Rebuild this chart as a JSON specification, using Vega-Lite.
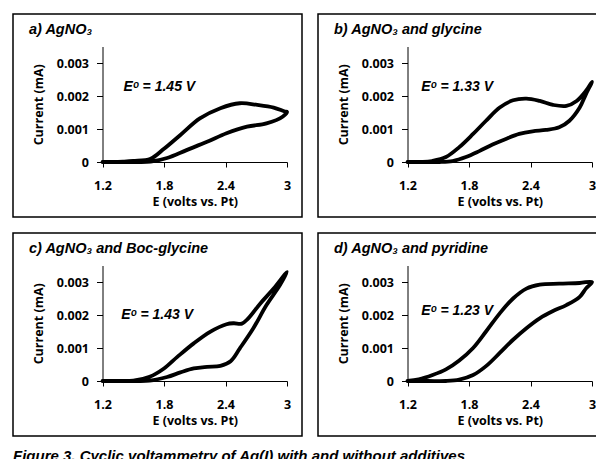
{
  "$schema": "https://vega.github.io/schema/vega-lite/v6.json",
  "background": "white",
  "padding": {"left": 12, "top": 13, "right": 0, "bottom": 0},
  "title": {
    "text": "Figure 3. Cyclic voltammetry of Ag(I) with and without additives",
    "orient": "bottom", "anchor": "start", "frame": "group", "dx": 0,
    "font": "Liberation Sans", "fontStyle": "italic", "fontWeight": "bold", "fontSize": 15,
    "color": "black", "baseline": "alphabetic", "offset": 24
  },
  "datasets": {
    "a": [
      {"i": 1, "E": 1.2, "I": 0}, {"i": 2, "E": 1.3, "I": 0}, {"i": 3, "E": 1.4, "I": 0.00001}, {"i": 4, "E": 1.5, "I": 0.00003},
      {"i": 5, "E": 1.67, "I": 0.0001}, {"i": 6, "E": 1.8, "I": 0.0004}, {"i": 7, "E": 1.96, "I": 0.00082}, {"i": 8, "E": 2.15, "I": 0.00132},
      {"i": 9, "E": 2.35, "I": 0.00163}, {"i": 10, "E": 2.54, "I": 0.00178}, {"i": 11, "E": 2.71, "I": 0.00173}, {"i": 12, "E": 2.87, "I": 0.00165},
      {"i": 13, "E": 2.98, "I": 0.00153}, {"i": 14, "E": 3.0, "I": 0.00152},
      {"i": 15, "E": 2.96, "I": 0.00138}, {"i": 16, "E": 2.8, "I": 0.00117}, {"i": 17, "E": 2.61, "I": 0.00107}, {"i": 18, "E": 2.41, "I": 0.00087},
      {"i": 19, "E": 2.22, "I": 0.00061}, {"i": 20, "E": 2.02, "I": 0.00036}, {"i": 21, "E": 1.83, "I": 0.00012}, {"i": 22, "E": 1.67, "I": 0.00001},
      {"i": 23, "E": 1.5, "I": 0}, {"i": 24, "E": 1.35, "I": 0}, {"i": 25, "E": 1.2, "I": 0}
    ],
    "b": [
      {"i": 1, "E": 1.2, "I": 0}, {"i": 2, "E": 1.35, "I": 0}, {"i": 3, "E": 1.44, "I": 0.00003}, {"i": 4, "E": 1.575, "I": 0.00015},
      {"i": 5, "E": 1.705, "I": 0.00045}, {"i": 6, "E": 1.84, "I": 0.00085}, {"i": 7, "E": 1.966, "I": 0.00125}, {"i": 8, "E": 2.1, "I": 0.00165},
      {"i": 9, "E": 2.23, "I": 0.00187}, {"i": 10, "E": 2.36, "I": 0.00192}, {"i": 11, "E": 2.49, "I": 0.00185}, {"i": 12, "E": 2.62, "I": 0.00173},
      {"i": 13, "E": 2.75, "I": 0.0017}, {"i": 14, "E": 2.85, "I": 0.00185}, {"i": 15, "E": 2.94, "I": 0.00215}, {"i": 16, "E": 3.0, "I": 0.00243},
      {"i": 17, "E": 2.94, "I": 0.00205}, {"i": 18, "E": 2.88, "I": 0.00165}, {"i": 19, "E": 2.78, "I": 0.00125}, {"i": 20, "E": 2.68, "I": 0.00105},
      {"i": 21, "E": 2.55, "I": 0.00097}, {"i": 22, "E": 2.42, "I": 0.00093}, {"i": 23, "E": 2.29, "I": 0.00085}, {"i": 24, "E": 2.16, "I": 0.0007},
      {"i": 25, "E": 2.03, "I": 0.00053}, {"i": 26, "E": 1.9, "I": 0.00033}, {"i": 27, "E": 1.77, "I": 0.00015}, {"i": 28, "E": 1.64, "I": 0.00003},
      {"i": 29, "E": 1.51, "I": 0}, {"i": 30, "E": 1.35, "I": 0}, {"i": 31, "E": 1.2, "I": 0}
    ],
    "c": [
      {"i": 1, "E": 1.2, "I": 0}, {"i": 2, "E": 1.35, "I": 0}, {"i": 3, "E": 1.5, "I": 0.00001}, {"i": 4, "E": 1.66, "I": 0.00013},
      {"i": 5, "E": 1.8, "I": 0.00038}, {"i": 6, "E": 1.93, "I": 0.00073}, {"i": 7, "E": 2.09, "I": 0.00114}, {"i": 8, "E": 2.25, "I": 0.00149},
      {"i": 9, "E": 2.41, "I": 0.00172}, {"i": 10, "E": 2.48, "I": 0.00175}, {"i": 11, "E": 2.56, "I": 0.00174}, {"i": 12, "E": 2.62, "I": 0.00189},
      {"i": 13, "E": 2.74, "I": 0.00235}, {"i": 14, "E": 2.87, "I": 0.0028}, {"i": 15, "E": 3.0, "I": 0.0033},
      {"i": 16, "E": 2.93, "I": 0.0029}, {"i": 17, "E": 2.8, "I": 0.0023}, {"i": 18, "E": 2.67, "I": 0.00159}, {"i": 19, "E": 2.54, "I": 0.00099},
      {"i": 20, "E": 2.45, "I": 0.0006}, {"i": 21, "E": 2.35, "I": 0.00046}, {"i": 22, "E": 2.22, "I": 0.00043}, {"i": 23, "E": 2.09, "I": 0.00038},
      {"i": 24, "E": 1.96, "I": 0.00026}, {"i": 25, "E": 1.83, "I": 0.00012}, {"i": 26, "E": 1.66, "I": 0.00001}, {"i": 27, "E": 1.5, "I": 0},
      {"i": 28, "E": 1.35, "I": 0}, {"i": 29, "E": 1.2, "I": 0}
    ],
    "d": [
      {"i": 1, "E": 1.2, "I": 0}, {"i": 2, "E": 1.31, "I": 0.00005}, {"i": 3, "E": 1.445, "I": 0.00018}, {"i": 4, "E": 1.575, "I": 0.00035},
      {"i": 5, "E": 1.705, "I": 0.00062}, {"i": 6, "E": 1.84, "I": 0.001}, {"i": 7, "E": 1.966, "I": 0.0015}, {"i": 8, "E": 2.1, "I": 0.00205},
      {"i": 9, "E": 2.23, "I": 0.0025}, {"i": 10, "E": 2.36, "I": 0.0028}, {"i": 11, "E": 2.49, "I": 0.00292}, {"i": 12, "E": 2.68, "I": 0.00295},
      {"i": 13, "E": 2.88, "I": 0.00297}, {"i": 14, "E": 3.0, "I": 0.003},
      {"i": 15, "E": 2.94, "I": 0.0028}, {"i": 16, "E": 2.88, "I": 0.00255}, {"i": 17, "E": 2.75, "I": 0.0023}, {"i": 18, "E": 2.62, "I": 0.00212},
      {"i": 19, "E": 2.49, "I": 0.0019}, {"i": 20, "E": 2.36, "I": 0.0016}, {"i": 21, "E": 2.23, "I": 0.00125}, {"i": 22, "E": 2.1, "I": 0.00085},
      {"i": 23, "E": 1.966, "I": 0.00045}, {"i": 24, "E": 1.84, "I": 0.00018}, {"i": 25, "E": 1.705, "I": 0.00004}, {"i": 26, "E": 1.575, "I": 0},
      {"i": 27, "E": 1.4, "I": 0}, {"i": 28, "E": 1.2, "I": 0}
    ]
  },
  "columns": 2,
  "spacing": {"row": 14, "column": 14},
  "concat": [
    {
      "width": 289, "height": 203,
      "title": {"text": "a) AgNO₃"},
      "layer": [
        {
          "data": {"name": "a"},
          "mark": {"type": "line", "color": "black", "strokeWidth": 3.8, "interpolate": "catmull-rom", "strokeJoin": "round", "strokeCap": "round"},
          "encoding": {
            "x": {"field": "E", "type": "quantitative", "scale": {"domain": [1.2, 3], "range": [89.5, 274], "nice": false, "zero": false},
                  "axis": {"offset": -55, "values": [1.2, 1.8, 2.4, 3], "format": "~g", "title": "E (volts vs. Pt)"}},
            "y": {"field": "I", "type": "quantitative", "scale": {"domain": [0, 0.0035], "range": [148, 32.5], "nice": false},
                  "axis": {"offset": -89.5, "values": [0, 0.001, 0.002, 0.003], "format": ".3~f", "title": "Current (mA)"}},
            "order": {"field": "i", "type": "quantitative"}
          }
        },
        {
          "data": {"values": [{"label": "Eᵒ = 1.45 V"}]},
          "mark": {"type": "text", "align": "left", "baseline": "alphabetic", "font": "Liberation Sans", "fontStyle": "italic", "fontWeight": "bold", "fontSize": 14, "color": "black"},
          "encoding": {"x": {"datum": 1.404}, "y": {"datum": 0.00214}, "text": {"field": "label"}}
        }
      ]
    },
    {
      "width": 289, "height": 203,
      "title": {"text": "b) AgNO₃ and glycine"},
      "layer": [
        {
          "data": {"name": "b"},
          "mark": {"type": "line", "color": "black", "strokeWidth": 3.8, "interpolate": "catmull-rom", "strokeJoin": "round", "strokeCap": "round"},
          "encoding": {
            "x": {"field": "E", "type": "quantitative", "scale": {"domain": [1.2, 3], "range": [89.5, 274], "nice": false, "zero": false},
                  "axis": {"offset": -55, "values": [1.2, 1.8, 2.4, 3], "format": "~g", "title": "E (volts vs. Pt)"}},
            "y": {"field": "I", "type": "quantitative", "scale": {"domain": [0, 0.0035], "range": [148, 32.5], "nice": false},
                  "axis": {"offset": -89.5, "values": [0, 0.001, 0.002, 0.003], "format": ".3~f", "title": "Current (mA)"}},
            "order": {"field": "i", "type": "quantitative"}
          }
        },
        {
          "data": {"values": [{"label": "Eᵒ = 1.33 V"}]},
          "mark": {"type": "text", "align": "left", "baseline": "alphabetic", "font": "Liberation Sans", "fontStyle": "italic", "fontWeight": "bold", "fontSize": 14, "color": "black"},
          "encoding": {"x": {"datum": 1.334}, "y": {"datum": 0.00216}, "text": {"field": "label"}}
        }
      ]
    },
    {
      "width": 289, "height": 203,
      "title": {"text": "c) AgNO₃ and Boc-glycine"},
      "layer": [
        {
          "data": {"name": "c"},
          "mark": {"type": "line", "color": "black", "strokeWidth": 3.8, "interpolate": "catmull-rom", "strokeJoin": "round", "strokeCap": "round"},
          "encoding": {
            "x": {"field": "E", "type": "quantitative", "scale": {"domain": [1.2, 3], "range": [89.5, 274], "nice": false, "zero": false},
                  "axis": {"offset": -55, "values": [1.2, 1.8, 2.4, 3], "format": "~g", "title": "E (volts vs. Pt)"}},
            "y": {"field": "I", "type": "quantitative", "scale": {"domain": [0, 0.0035], "range": [148, 32.5], "nice": false},
                  "axis": {"offset": -89.5, "values": [0, 0.001, 0.002, 0.003], "format": ".3~f", "title": "Current (mA)"}},
            "order": {"field": "i", "type": "quantitative"}
          }
        },
        {
          "data": {"values": [{"label": "Eᵒ = 1.43 V"}]},
          "mark": {"type": "text", "align": "left", "baseline": "alphabetic", "font": "Liberation Sans", "fontStyle": "italic", "fontWeight": "bold", "fontSize": 14, "color": "black"},
          "encoding": {"x": {"datum": 1.383}, "y": {"datum": 0.00189}, "text": {"field": "label"}}
        }
      ]
    },
    {
      "width": 289, "height": 203,
      "title": {"text": "d) AgNO₃ and pyridine"},
      "layer": [
        {
          "data": {"name": "d"},
          "mark": {"type": "line", "color": "black", "strokeWidth": 3.8, "interpolate": "catmull-rom", "strokeJoin": "round", "strokeCap": "round"},
          "encoding": {
            "x": {"field": "E", "type": "quantitative", "scale": {"domain": [1.2, 3], "range": [89.5, 274], "nice": false, "zero": false},
                  "axis": {"offset": -55, "values": [1.2, 1.8, 2.4, 3], "format": "~g", "title": "E (volts vs. Pt)"}},
            "y": {"field": "I", "type": "quantitative", "scale": {"domain": [0, 0.0035], "range": [148, 32.5], "nice": false},
                  "axis": {"offset": -89.5, "values": [0, 0.001, 0.002, 0.003], "format": ".3~f", "title": "Current (mA)"}},
            "order": {"field": "i", "type": "quantitative"}
          }
        },
        {
          "data": {"values": [{"label": "Eᵒ = 1.23 V"}]},
          "mark": {"type": "text", "align": "left", "baseline": "alphabetic", "font": "Liberation Sans", "fontStyle": "italic", "fontWeight": "bold", "fontSize": 14, "color": "black"},
          "encoding": {"x": {"datum": 1.334}, "y": {"datum": 0.002}, "text": {"field": "label"}}
        }
      ]
    }
  ],
  "config": {
    "view": {"stroke": "black", "strokeWidth": 1.5, "fill": "white"},
    "title": {"anchor": "start", "frame": "group", "font": "Liberation Sans", "fontStyle": "italic", "fontWeight": "bold", "fontSize": 14.5, "color": "black", "baseline": "alphabetic", "offset": -23, "dx": 16},
    "axis": {
      "grid": false, "domainColor": "black", "domainWidth": 1, "tickColor": "black", "tickWidth": 1,
      "labelColor": "black", "labelFont": "Open Sans", "labelFontWeight": "bold", "labelFontSize": 12.5, "labelFlush": false, "labelOverlap": false,
      "titleColor": "black", "titleFont": "Open Sans", "titleFontWeight": "bold", "titleFontSize": 12.5
    },
    "axisX": {"tickSize": 5, "labelPadding": 12, "titlePadding": 4},
    "axisY": {"tickSize": 6, "labelPadding": 8, "titlePadding": 11}
  }
}
